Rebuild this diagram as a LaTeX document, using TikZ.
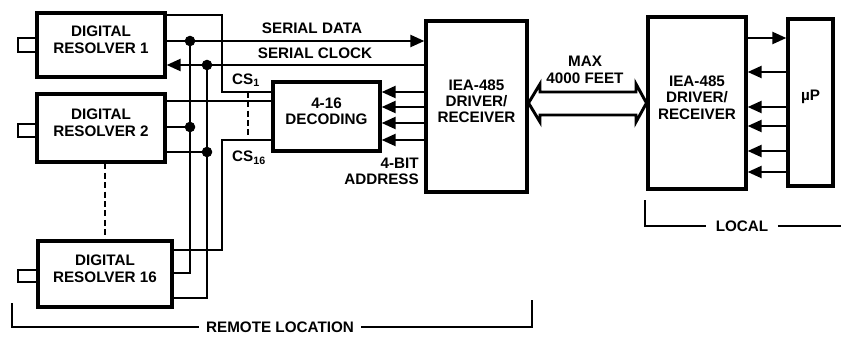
\documentclass[tikz,border=0pt]{standalone}
\usepackage{fontspec}
\setmainfont{Liberation Sans}
\usetikzlibrary{arrows.meta,fit}
\begin{document}
\begin{tikzpicture}[x=0.03cm,y=-0.03cm,
  txt/.style={font=\fontsize{13}{14}\selectfont\bfseries},
  box/.style={draw,line width=2.6pt,inner sep=0pt,align=center,txt},
  stub/.style={draw,line width=2.4pt,inner sep=0pt},
  wire/.style={line width=2.5pt},
  arr/.style={wire,-{Triangle[length=12pt,width=10pt]}},
  dot/.style={circle,fill,inner sep=0pt,minimum size=9pt},
  lbl/.style={txt,inner sep=0pt},
  brk/.style={line width=1.4pt},
  dsh/.style={line width=1.5pt,dash pattern=on 5pt off 3pt}]
\useasboundingbox (0,0) rectangle (841,337);

% resolvers
\node[box,fit={(37,13) (165,77)}] (r1) {DIGITAL\\RESOLVER 1};
\node[box,fit={(37,94) (165,162)}] (r2) {DIGITAL\\RESOLVER 2};
\node[box,fit={(38,241) (172,307)}] (r16) {DIGITAL\\RESOLVER 16};
\node[stub,fit={(18,38) (37,52)}] (s1) {};
\node[stub,fit={(18,124) (37,137)}] (s2) {};
\node[stub,fit={(18,270) (38,282)}] (s16) {};

% decoder, drivers, uP
\node[box,fit={(273,82) (380,151)}] (dec) {4-16\\DECODING};
\node[box,fit={(426,21) (527,192)}] (drvL) {IEA-485\\DRIVER/\\RECEIVER};
\node[box,fit={(648,17) (746,189)}] (drvR) {IEA-485\\DRIVER/\\RECEIVER};
\node[box,fit={(788,19) (833,186)}] (up) {µP};

% junction dots
\node[dot] (j1) at (190,41) {};
\node[dot] (j2) at (207,65) {};
\node[dot] (j3) at (190,127) {};
\node[dot] (j4) at (207,152) {};

% serial data / clock
\draw[arr] (r1.east |- 0,41) -- (drvL.west |- 0,41);
\draw[arr] (drvL.west |- 0,65) -- (r1.east |- 0,65);
\draw[wire] (j1.center) -- (190,273) -- (r16.east |- 0,273);
\draw[wire] (j2.center) -- (207,298) -- (r16.east |- 0,298);
\draw[wire] (r2.east |- 0,127) -- (j3.center);
\draw[wire] (r2.east |- 0,152) -- (j4.center);

% chip selects
\draw[wire] (r1.east |- 0,15) -| (222,92) -- (dec.west |- 0,92);
\draw[wire] (r2.east |- 0,101) -- (dec.west |- 0,101);
\draw[wire] (r16.east |- 0,250) -| (222,140) -- (dec.west |- 0,140);
\draw[dsh] (248,92) -- (248,140);
\draw[dsh] (r16.north |- r2.south) -- (r16.north);

% address lines
\foreach \y in {92,107,123,140}
  \draw[arr] (drvL.west |- 0,\y) -- (dec.east |- 0,\y);

% long-line double arrow
\draw[wire,line join=miter] (drvL.east |- 0,103) -- (540,84) -- (540,92) -- (636,92) -- (636,84)
  -- (drvR.west |- 0,103) -- (636,122) -- (636,115) -- (540,115) -- (540,122) -- cycle;

% local uP lines
\draw[arr] (drvR.east |- 0,38) -- (up.west |- 0,38);
\foreach \y in {72,107,126,151,172}
  \draw[arr] (up.west |- 0,\y) -- (drvR.east |- 0,\y);

% labels
\node[lbl] (sd) at (312,28) {SERIAL DATA};
\node[lbl] (sc) at (315,53) {SERIAL CLOCK};
\node[lbl] (cs1) at (246,80) {CS\textsubscript{1}};
\node[lbl] (cs16) at (249,158) {CS\textsubscript{16}};
\node[lbl,anchor=east] (bit) at (419,163) {4-BIT};
\node[lbl,anchor=east] (adr) at (419,179) {ADDRESS};
\node[lbl,align=center] (max) at (585,70) {MAX\\4000 FEET};

% brackets
\node[lbl,inner xsep=6pt] (rl) at (280,327) {REMOTE LOCATION};
\draw[brk] (12,303) -- (12,327) -- (rl.west);
\draw[brk] (rl.east) -- (532,327) -- (532,300);
\node[lbl,inner xsep=8pt] (loc) at (742,226) {LOCAL};
\draw[brk] (645,200) -- (645,226) -- (loc.west);
\draw[brk] (loc.east) -- (841,226);
\end{tikzpicture}
\end{document}
